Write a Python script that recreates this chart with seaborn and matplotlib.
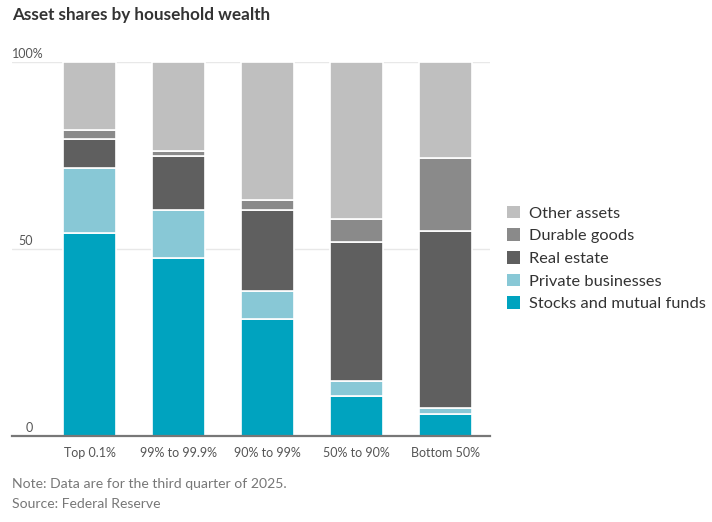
import numpy as np
import pandas as pd
import matplotlib.pyplot as plt
import matplotlib.transforms as mtransforms
from matplotlib.patches import Patch
import seaborn as sns

# Data (percent of assets)
groups = ["Top 0.1%", "99% to 99.9%", "90% to 99%", "50% to 90%", "Bottom 50%"]
stocks = [54.3, 47.6, 31.4, 10.7, 5.9]
private_biz = [17.5, 13.0, 7.4, 4.0, 1.7]
real_estate = [7.8, 14.4, 21.6, 37.2, 47.2]
durable = [2.4, 1.3, 2.7, 6.1, 19.6]
other = [18.0, 23.7, 36.9, 42.0, 25.6]

series = ["Stocks and mutual funds", "Private businesses", "Real estate",
          "Durable goods", "Other assets"]
colors = ["#00a3bf", "#88c8d6", "#5f5f5f", "#8a8a8a", "#bfbfbf"]

sns.set_theme(style="white")
plt.rcParams["font.family"] = ["Lato", "DejaVu Sans"]

df = pd.DataFrame({"group": groups, series[0]: stocks, series[1]: private_biz,
                   series[2]: real_estate, series[3]: durable, series[4]: other})

fig = plt.figure(figsize=(7.12, 5.22), dpi=100)
ax = fig.add_axes([12 / 712, 86 / 522, (490 - 12) / 712, (436 - 62.3) / 522])

# stacked bars: draw each segment on top of the previous ones
bottom = np.zeros(len(groups))
for name, col in zip(series, colors):
    vals = df[name].to_numpy()
    sns.barplot(x=df["group"], y=vals, bottom=bottom, color=col, width=0.6,
                saturation=1, edgecolor="white", linewidth=1.2, ax=ax, zorder=3)
    bottom = bottom + vals

ax.set_xlim(-0.875, 4.5)
ax.set_ylim(0, 100)
sns.despine(ax=ax, left=True, top=True, right=True, bottom=False)
ax.spines["bottom"].set_color("#777777")
ax.spines["bottom"].set_linewidth(1.6)
ax.spines["bottom"].set_zorder(5)
ax.set_xlabel("")
ax.set_ylabel("")
ax.set_yticks([])
for yv in [50, 100]:
    ax.axhline(yv, color="#e8e8e8", lw=1, zorder=1)
ax.tick_params(axis="x", length=0, pad=8, labelsize=9, labelcolor="#555555")

# y labels sit just above the gridlines
trans = mtransforms.blended_transform_factory(fig.transFigure, ax.transData)
ax.text(12 / 712, 100.6, "100%", transform=trans, ha="left", va="bottom",
        fontsize=9, color="#555555")
ax.text(33 / 712, 50.6, "50", transform=trans, ha="right", va="bottom",
        fontsize=9, color="#555555")
ax.text(33 / 712, 0.6, "0", transform=trans, ha="right", va="bottom",
        fontsize=9, color="#555555")

fig.text(12 / 712, 1 - 15 / 522, "Asset shares by household wealth", ha="left",
         va="center", fontsize=12.3, fontweight="bold", color="#333333")

handles = [Patch(facecolor=c, edgecolor="none", label=s)
           for s, c in zip(series[::-1], colors[::-1])]
fig.legend(handles=handles, loc="upper left", bbox_to_anchor=(492 / 712, 1 - 191 / 522),
           frameon=False, fontsize=11.8, handlelength=0.8, handleheight=0.8,
           handletextpad=0.55, labelspacing=0.47, labelcolor="#333333")

fig.text(12 / 712, 1 - 484 / 522, "Note: Data are for the third quarter of 2025.",
         ha="left", va="center", fontsize=10.1, color="#777777")
fig.text(12 / 712, 1 - 504 / 522, "Source: Federal Reserve",
         ha="left", va="center", fontsize=10.1, color="#777777")

fig.savefig("out.png", dpi=100)
